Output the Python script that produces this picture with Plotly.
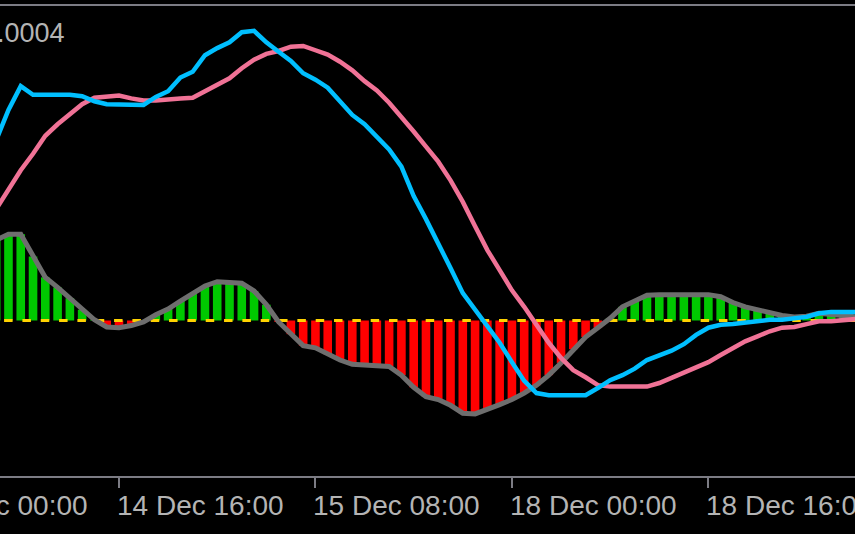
import plotly.graph_objects as go

# ---- data (values in units of 0.0001) ----
bar_index = list(range(6, 77))

histogram = [1.12, 1.20, 1.20, 0.89, 0.60, 0.46, 0.31, 0.15, 0.01, -0.09, -0.10, -0.07, -0.02,
             0.08, 0.16, 0.27, 0.37, 0.48, 0.54, 0.53, 0.52, 0.41, 0.22, -0.02, -0.19,
             -0.35, -0.38, -0.47, -0.55, -0.61, -0.62, -0.62, -0.64, -0.76, -0.93, -1.06,
             -1.10, -1.18, -1.29, -1.30, -1.24, -1.17, -1.10, -1.01, -0.90, -0.76, -0.59, -0.40, -0.23,
             -0.10, 0.03, 0.19, 0.27, 0.35, 0.36, 0.36, 0.36, 0.36, 0.36,
             0.33, 0.25, 0.19, 0.15, 0.11, 0.07, 0.05, 0.06, 0.10, 0.08, 0.06, 0.05]

macd_line = [2.51, 2.93, 3.26, 3.14, 3.14, 3.14, 3.14, 3.12, 3.05, 3.01, 3.01, 3.00, 3.00,
             3.11, 3.19, 3.38, 3.46, 3.69, 3.79, 3.87, 4.01, 4.03, 3.87, 3.74, 3.61,
             3.44, 3.35, 3.24, 3.04, 2.86, 2.73, 2.56, 2.38, 2.14, 1.73, 1.41,
             1.08, 0.73, 0.38, 0.15, -0.10, -0.31, -0.58, -0.84, -1.01, -1.04, -1.04, -1.04, -1.04,
             -0.94, -0.83, -0.76, -0.67, -0.55, -0.49, -0.42, -0.33, -0.20, -0.10,
             -0.06, -0.05, -0.03, -0.01, 0.01, 0.01, 0.03, 0.05, 0.10, 0.12, 0.12, 0.12]

signal_line = [1.55, 1.82, 2.09, 2.32, 2.57, 2.73, 2.88, 3.01, 3.10, 3.12, 3.13, 3.09, 3.06,
               3.06, 3.08, 3.09, 3.10, 3.19, 3.28, 3.37, 3.51, 3.63, 3.71, 3.75, 3.81,
               3.82, 3.76, 3.70, 3.60, 3.48, 3.33, 3.20, 3.03, 2.84, 2.63, 2.42,
               2.21, 1.95, 1.65, 1.31, 0.98, 0.70, 0.42, 0.19, -0.06, -0.31, -0.52, -0.69, -0.79,
               -0.90, -0.92, -0.92, -0.92, -0.92, -0.87, -0.80, -0.73, -0.66, -0.58,
               -0.48, -0.38, -0.29, -0.22, -0.15, -0.10, -0.09, -0.05, -0.01, -0.01, 0.01, 0.02]

tick_index = [0, 16, 32, 48, 64]
tick_labels = ["14 Dec 00:00", "14 Dec 16:00", "15 Dec 08:00", "18 Dec 00:00", "18 Dec 16:00"]
level_label = "0.0004"

# ---- styles ----
GREEN = "#00C800"
RED = "#FF0000"
BLUE = "#00BFFF"
PINK = "#F07296"
GRAY = "#6E6E6E"
YELLOW = "#FFD200"
FRAME = "#7C7C84"
TEXT = "#B4B4B4"
FONT = "Liberation Sans, Arial, sans-serif"

X_RANGE = [6.31, 75.94]
Y_RANGE = [-2.1635, 4.3757]

bar_colors = [GREEN if v >= 0 else RED for v in histogram]

fig = go.Figure()
fig.add_trace(go.Bar(x=bar_index, y=histogram, width=0.7,
                     marker=dict(color=bar_colors, line=dict(width=0)),
                     hoverinfo="skip"))
fig.add_trace(go.Scatter(x=[5.15, 77], y=[0, 0], mode="lines",
                         line=dict(color=YELLOW, width=3, dash="8.5px,9.83px")))
fig.add_trace(go.Scatter(x=bar_index, y=histogram, mode="lines",
                         line=dict(color=GRAY, width=5)))
fig.add_trace(go.Scatter(x=bar_index, y=signal_line, mode="lines",
                         line=dict(color=PINK, width=4.5)))
fig.add_trace(go.Scatter(x=bar_index, y=macd_line, mode="lines",
                         line=dict(color=BLUE, width=4.5)))

annotations = []
for ti, tl in zip(tick_index, tick_labels):
    # position through the x-axis range (labels may lie partly outside the plot)
    px = (ti - X_RANGE[0]) / (X_RANGE[1] - X_RANGE[0])
    annotations.append(dict(x=px, xref="paper", y=0, yref="paper", text=tl,
                            xanchor="left", yanchor="middle", yshift=-29, xshift=-4,
                            showarrow=False, font=dict(family=FONT, size=28, color=TEXT)))
annotations.append(dict(x=67 / 855, xref="paper", y=(476 - 32.5) / 470, yref="paper",
                        text=level_label, xanchor="right", yanchor="middle",
                        showarrow=False, font=dict(family=FONT, size=27, color=TEXT)))

fig.update_layout(
    width=855, height=534,
    margin=dict(l=0, r=0, t=6, b=58),
    paper_bgcolor="#000000", plot_bgcolor="#000000",
    showlegend=False,
    hovermode=False,
    annotations=annotations,
    xaxis=dict(range=X_RANGE, showgrid=False, zeroline=False,
               showline=True, mirror=True, linecolor=FRAME, linewidth=2,
               ticks="outside", tickvals=tick_index[1:], ticklen=10, tickwidth=2,
               tickcolor=FRAME, showticklabels=False, fixedrange=True),
    yaxis=dict(range=Y_RANGE, visible=False, fixedrange=True),
)

fig.write_html("out.html",
               config={"displayModeBar": False, "staticPlot": True},
               post_script="document.body.style.margin='0';document.body.style.padding='0';"
                           "document.body.style.background='#000';")
